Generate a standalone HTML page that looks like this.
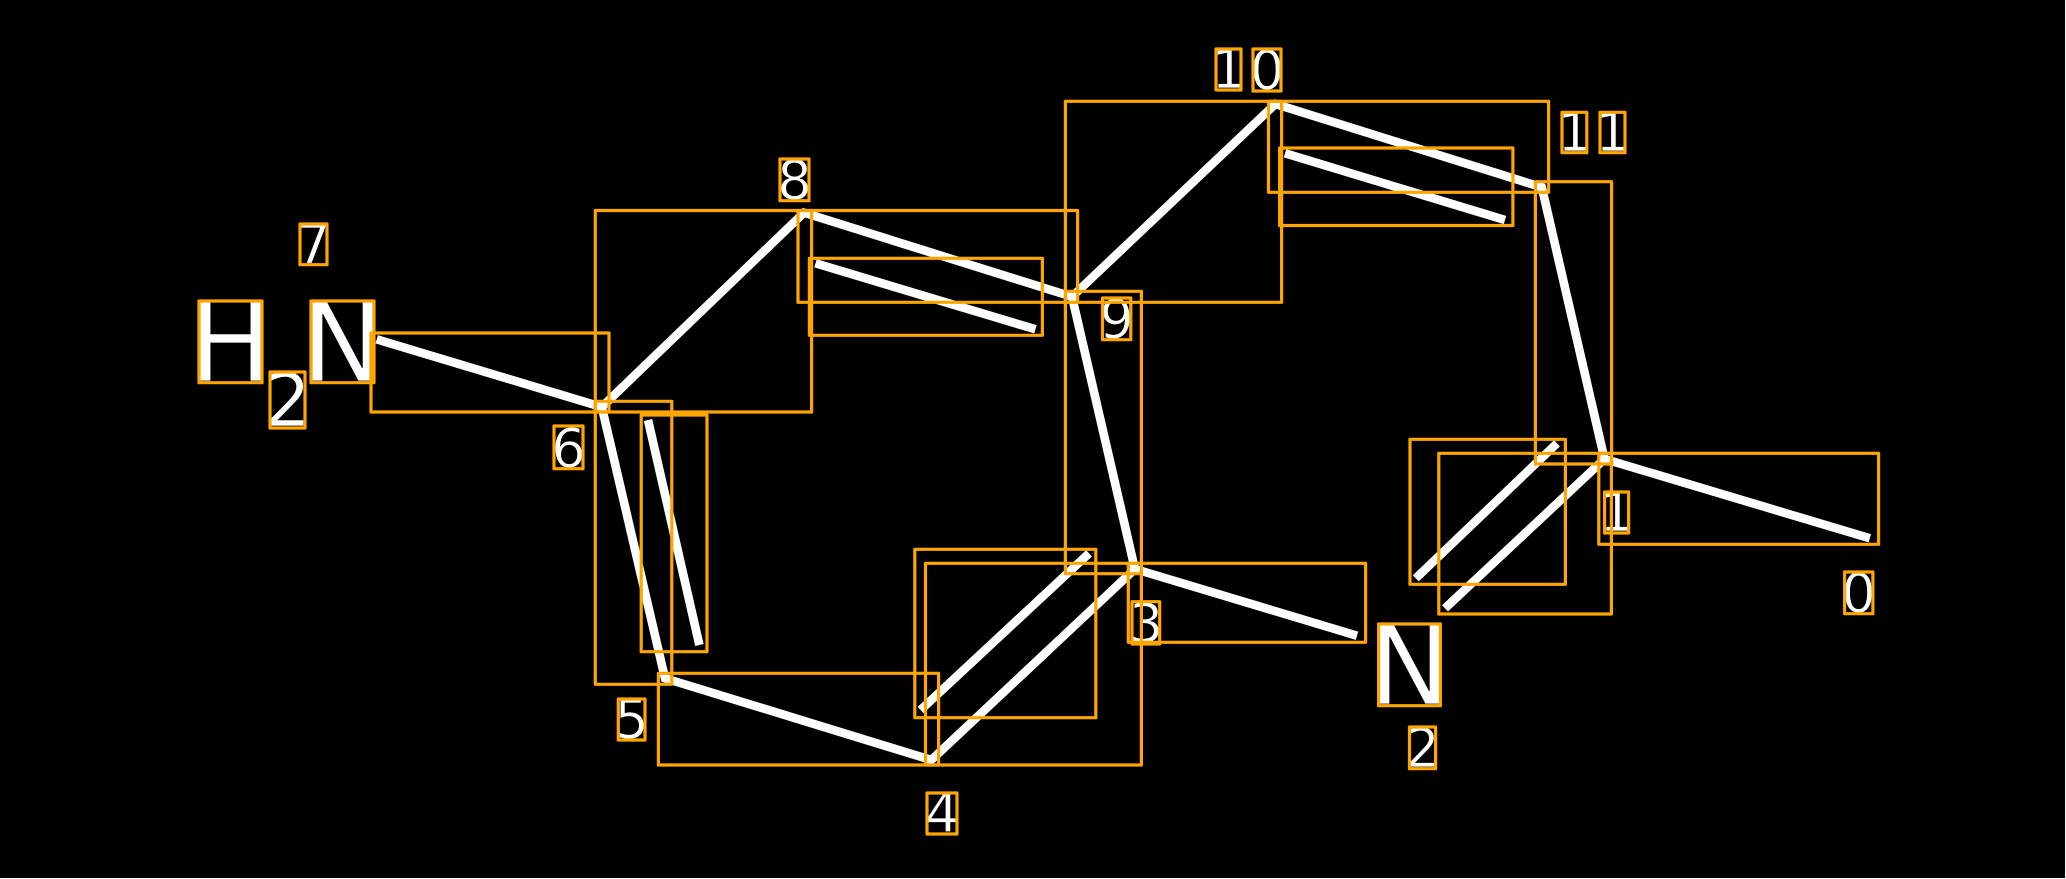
<!DOCTYPE html>
<html><head><meta charset="utf-8"><style>
html,body{margin:0;padding:0;background:#fff;width:2066px;height:879px;overflow:hidden}
svg{display:block}
text{font-family:"DejaVu Sans",sans-serif;fill:#fff;stroke:#000;stroke-width:.7}
</style></head><body>
<svg width="2066" height="879" viewBox="0 0 2066 879" xmlns="http://www.w3.org/2000/svg">
<rect x="0" y="0" width="2066" height="879" fill="#fff"/>
<rect x="0" y="0" width="2065" height="878" fill="#000"/>
<g stroke="#fff" stroke-width="8.6" fill="none" stroke-linejoin="miter" stroke-miterlimit="10">
<polyline points="376.7,339.3 601.8,407 804,212.7 1072,296.7 1275.4,104 1541.8,187.3 1604.5,459 1869.8,538.3"/>
<polyline points="601.8,407 665,678.3 931.3,760 1134.9,569 1072,296.7"/>
<line x1="1134.9" y1="569" x2="1357" y2="635.7"/>
<line x1="1604.5" y1="459" x2="1445" y2="608.3"/>
<line x1="648" y1="420" x2="699.4" y2="645"/>
<line x1="815.5" y1="263.3" x2="1035.5" y2="329.3"/>
<line x1="1285" y1="153.3" x2="1505" y2="220"/>
<line x1="1089" y1="553.3" x2="920.6" y2="710"/>
<line x1="1557" y1="443.3" x2="1415.8" y2="578.3"/>
</g>
<g font-size="110">
<text x="230.5" y="381" text-anchor="middle">H</text>
<text x="342.5" y="381" text-anchor="middle">N</text>
<text x="1409.5" y="704" text-anchor="middle">N</text>
</g>
<text x="287.5" y="426" font-size="74" text-anchor="middle">2</text>
<g font-size="54" text-anchor="middle">
<text x="313.5" y="263">7</text>
<text x="568.5" y="467">6</text>
<text x="631.5" y="738">5</text>
<text x="942" y="832">4</text>
<text x="1146" y="642">3</text>
<text x="1422.5" y="767">2</text>
<text x="794.5" y="199">8</text>
<text x="1116.5" y="338">9</text>
<text x="1228.5" y="88">1</text>
<text x="1267" y="89">0</text>
<text x="1574.5" y="151">1</text>
<text x="1612.5" y="151">1</text>
<text x="1616.5" y="531">1</text>
<text x="1858.5" y="612">0</text>
</g>
<g fill="none" stroke="#ffa500" stroke-width="3.2" stroke-linejoin="round">
<rect x="199" y="301" width="63" height="81.7"/>
<rect x="311" y="301" width="63" height="81.7"/>
<rect x="270" y="372" width="35" height="56"/>
<rect x="300" y="224" width="27" height="40.7"/>
<rect x="554" y="426" width="29" height="42.7"/>
<rect x="371" y="333" width="238" height="79"/>
<rect x="595.3" y="210.5" width="216.3" height="201.5"/>
<rect x="798" y="210.5" width="279.6" height="91.8"/>
<rect x="809.4" y="258.3" width="233" height="77"/>
<rect x="1065.4" y="101.3" width="216.2" height="201"/>
<rect x="1268.5" y="101.3" width="280.1" height="91"/>
<rect x="1279.6" y="148" width="233.3" height="77.5"/>
<rect x="1065.4" y="291.3" width="76" height="282.4"/>
<rect x="595.3" y="401.3" width="76.5" height="283"/>
<rect x="641.2" y="415" width="65.8" height="236.7"/>
<rect x="658.4" y="673.3" width="280.2" height="91.7"/>
<rect x="925.5" y="563.3" width="215.9" height="201.7"/>
<rect x="914.8" y="549.3" width="181" height="168.4"/>
<rect x="1128.3" y="563.3" width="237.3" height="79"/>
<rect x="1535.4" y="181.7" width="76.2" height="282.3"/>
<rect x="1598.8" y="453.3" width="279.8" height="91"/>
<rect x="1438.8" y="453.3" width="172.6" height="160.7"/>
<rect x="1410" y="439.3" width="155.4" height="145"/>
<rect x="1378.6" y="624" width="61.8" height="81.7"/>
<rect x="1409.5" y="727" width="26.1" height="41.7"/>
<rect x="618.3" y="699" width="26.7" height="41"/>
<rect x="927" y="793" width="30" height="41"/>
<rect x="1132" y="601.7" width="27.7" height="42.3"/>
<rect x="780" y="159" width="29" height="41.7"/>
<rect x="1102.5" y="298" width="28.3" height="41.7"/>
<rect x="1216" y="49" width="25" height="41"/>
<rect x="1253" y="49" width="28" height="42"/>
<rect x="1562" y="112.3" width="24.8" height="40.4"/>
<rect x="1600" y="112.3" width="25" height="40.4"/>
<rect x="1604.6" y="492" width="24" height="41"/>
<rect x="1844.6" y="572" width="28.3" height="41.7"/>
</g>
</svg>
</body></html>
